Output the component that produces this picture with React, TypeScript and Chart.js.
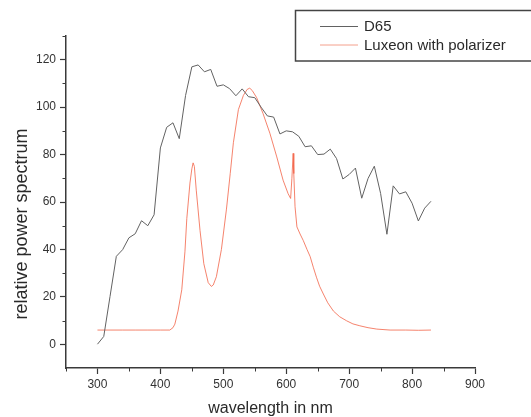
import { useEffect, useRef } from "react";
import { Chart, registerables } from "chart.js";

Chart.register(...registerables);

// ---- data ----
const d65Wavelengths = [
  300, 310, 320, 330, 340, 350, 360, 370, 380, 390, 400, 410, 420, 430, 440, 450, 460, 470, 480, 490,
  500, 510, 520, 530, 540, 550, 560, 570, 580, 590, 600, 610, 620, 630, 640, 650, 660, 670, 680, 690,
  700, 710, 720, 730, 740, 750, 760, 770, 780, 790, 800, 810, 820, 830,
];
const d65Values = [
  0.03, 3.3, 20.2, 37.1, 39.9, 44.9, 46.6, 52.1, 50.0, 54.6, 82.8, 91.5, 93.4, 86.7, 104.9, 117.0, 117.8, 114.9, 115.9, 108.8,
  109.4, 107.8, 104.8, 107.7, 104.4, 104.0, 100.0, 96.3, 95.8, 88.7, 90.0, 89.6, 87.7, 83.3, 83.7, 80.0, 80.2, 82.3, 78.3, 69.7,
  71.6, 74.3, 61.6, 69.9, 75.1, 63.6, 46.4, 66.8, 63.4, 64.3, 59.5, 52.0, 57.4, 60.3,
];

const luxeonWavelengths = [
  300, 320, 340, 360, 380, 400, 415, 420, 423, 428, 434, 439, 442, 447, 450, 452, 454, 457, 463, 469,
  476, 481, 484, 489, 497, 505, 511, 516, 524, 532, 538, 542, 546, 553, 563, 574, 585, 595, 603, 607,
  609, 611, 612, 614, 617, 622, 627, 633, 638, 643, 648, 653, 659, 666, 675, 685, 696, 706, 717, 730,
  744, 765, 790, 810, 830,
];
const luxeonValues = [
  6, 6, 6, 6, 6, 6, 6, 7, 8.5, 14, 23, 39, 53, 68, 74, 76.5, 75, 65, 48, 34,
  26, 24.4, 25, 28.5, 40, 57, 72, 85, 99, 105, 107.5, 108, 107, 104, 97.4, 89, 79, 69.2, 63.5, 61.5,
  70, 80.5, 72, 58, 49.5, 46.5, 43.8, 40, 37, 32.5, 28.3, 24.5, 21.2, 17.5, 14, 11.6, 9.9, 8.6, 7.8, 7,
  6.4, 6, 6, 5.9, 6,
];

const seriesLabels = ["D65", "Luxeon with polarizer"];
const xTickValues = [300, 400, 500, 600, 700, 800, 900];
const yTickValues = [0, 20, 40, 60, 80, 100, 120];
const xMinorTicks = [250, 350, 450, 550, 650, 750, 850];
const yMinorTicks = [10, 30, 50, 70, 90, 110, 130];
const xTitle = "wavelength in nm";
const yTitle = "relative power spectrum";

// ---- styles ----
const FONT = 'Arial, "Liberation Sans", sans-serif';
const AXIS_COLOR = "#3a3a3a";
const TEXT_COLOR = "#2a2a2a";
const D65_COLOR = "#626262";
const LUX_COLOR = "rgba(242,100,72,0.8)";
const LUX_LEGEND_COLOR = "#f4a08c";

const decorPlugin = {
  id: "decor",
  afterDraw(chart: any) {
    const ctx = chart.ctx as CanvasRenderingContext2D;
    const xs = chart.scales.x;
    const ys = chart.scales.y;
    ctx.save();
    // minor ticks
    ctx.strokeStyle = AXIS_COLOR;
    ctx.lineWidth = 1;
    ctx.beginPath();
    for (const v of xMinorTicks) {
      const px = Math.round(xs.getPixelForValue(v)) + 0.5;
      ctx.moveTo(px, ys.bottom);
      ctx.lineTo(px, ys.bottom + 3.5);
    }
    for (const v of yMinorTicks) {
      const py = Math.round(ys.getPixelForValue(v)) + 0.5;
      ctx.moveTo(xs.left - 3.5, py);
      ctx.lineTo(xs.left, py);
    }
    ctx.stroke();

    // y title
    ctx.save();
    ctx.translate(22, 224);
    ctx.rotate(-Math.PI / 2);
    ctx.fillStyle = TEXT_COLOR;
    ctx.font = `18px ${FONT}`;
    ctx.textAlign = "center";
    ctx.textBaseline = "middle";
    ctx.fillText(yTitle, 0, 0);
    ctx.restore();

    // legend box
    ctx.strokeStyle = "#444";
    ctx.lineWidth = 1.5;
    ctx.strokeRect(295.5, 10.5, 260, 50.5);
    const colors = [D65_COLOR, LUX_LEGEND_COLOR];
    const rows = [26, 44.5];
    ctx.font = `15px ${FONT}`;
    ctx.textBaseline = "middle";
    ctx.textAlign = "left";
    seriesLabels.forEach((label, i) => {
      ctx.strokeStyle = colors[i];
      ctx.lineWidth = 1;
      ctx.beginPath();
      ctx.moveTo(320, rows[i] + 0.5);
      ctx.lineTo(358, rows[i] + 0.5);
      ctx.stroke();
      ctx.fillStyle = TEXT_COLOR;
      ctx.fillText(label, 364, rows[i] + 1);
    });
    ctx.restore();
  },
};

export default function App() {
  const canvasRef = useRef<HTMLCanvasElement | null>(null);

  useEffect(() => {
    if (!canvasRef.current) return;
    const chart = new Chart(canvasRef.current, {
      type: "line",
      data: {
        datasets: [
          {
            label: seriesLabels[0],
            data: d65Wavelengths.map((x, i) => ({ x, y: d65Values[i] })),
            borderColor: D65_COLOR,
            borderWidth: 1,
            pointRadius: 0,
            tension: 0,
            fill: false,
          },
          {
            label: seriesLabels[1],
            data: luxeonWavelengths.map((x, i) => ({ x, y: luxeonValues[i] })),
            borderColor: LUX_COLOR,
            borderWidth: 1,
            pointRadius: 0,
            tension: 0,
            fill: false,
          },
        ],
      },
      options: {
        animation: false,
        responsive: false,
        devicePixelRatio: 1,
        layout: { padding: { left: 0, top: 36, right: 56, bottom: 0 } },
        plugins: {
          legend: { display: false },
          tooltip: { enabled: false },
        },
        scales: {
          x: {
            type: "linear",
            min: 250,
            max: 900,
            afterBuildTicks: (s: any) => {
              s.ticks = xTickValues.map((value) => ({ value }));
            },
            afterFit: (s: any) => {
              s.height = 49;
            },
            grid: {
              drawOnChartArea: false,
              drawTicks: true,
              tickLength: 6,
              tickColor: AXIS_COLOR,
              tickWidth: 1.2,
            },
            border: { display: true, color: AXIS_COLOR, width: 1.5 },
            ticks: {
              font: { size: 12, family: FONT },
              color: "#333",
              padding: 3,
              maxRotation: 0,
              autoSkip: false,
            },
            title: {
              display: true,
              text: xTitle,
              color: TEXT_COLOR,
              font: { size: 16, family: FONT, lineHeight: 1 },
              padding: { top: 0, bottom: 0 },
            },
          },
          y: {
            type: "linear",
            min: -10,
            max: 130,
            afterBuildTicks: (s: any) => {
              s.ticks = yTickValues.map((value) => ({ value }));
            },
            afterFit: (s: any) => {
              s.width = 66;
            },
            grid: {
              drawOnChartArea: false,
              drawTicks: true,
              tickLength: 6,
              tickColor: AXIS_COLOR,
              tickWidth: 1.2,
            },
            border: { display: true, color: AXIS_COLOR, width: 1.5 },
            ticks: {
              font: { size: 12, family: FONT },
              color: "#333",
              padding: 4,
            },
          },
        },
      },
      plugins: [decorPlugin],
    } as any);
    return () => chart.destroy();
  }, []);

  return (
    <div style={{ position: "absolute", left: 0, top: 0, width: 531, height: 417, background: "#fff" }}>
      <canvas ref={canvasRef} width={531} height={417} style={{ display: "block", width: 531, height: 417 }} />
    </div>
  );
}
